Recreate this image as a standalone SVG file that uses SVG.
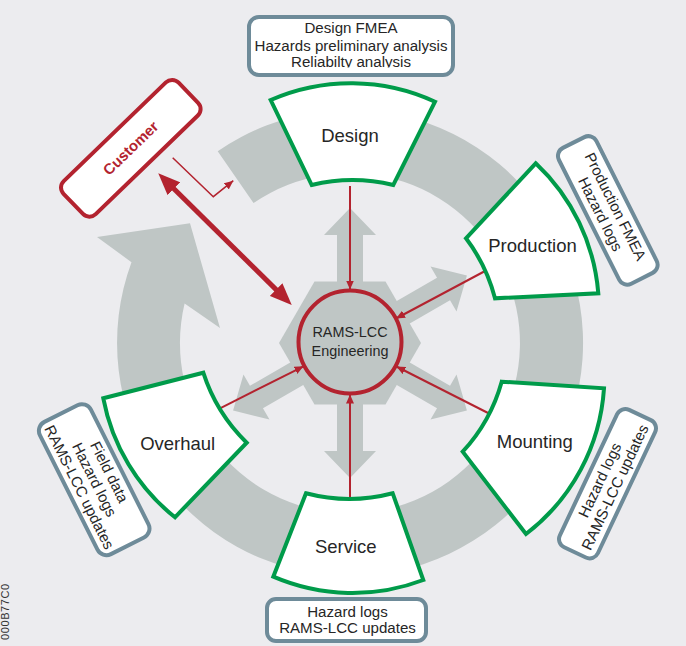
<svg xmlns="http://www.w3.org/2000/svg" width="686" height="646" viewBox="0 0 686 646">
<style>
.gray{fill:#BFC6C5}
.seg{fill:#fff;stroke:#009B4A;stroke-width:4;stroke-linejoin:miter}
.note{fill:#fff;stroke:#6E8B99;stroke-width:4}
.t{font-family:"Liberation Sans",Arial,sans-serif;fill:#262626;text-anchor:middle}
.lbl{font-size:18.5px}
.nt{font-size:15.1px}
.thin{stroke:#B3232F;stroke-width:2;fill:none}
</style>
<defs>
<marker id="ah" markerUnits="userSpaceOnUse" markerWidth="9" markerHeight="8" viewBox="0 0 9 8" refX="9" refY="4" orient="auto"><path d="M0,0 L9,4 L0,8 z" fill="#B3232F"/></marker>
<marker id="big" markerUnits="userSpaceOnUse" markerWidth="22" markerHeight="18" viewBox="0 0 22 18" refX="10" refY="9" orient="auto-start-reverse"><path d="M0,0 L22,9 L0,18 z" fill="#B3232F"/></marker>
<path id="rad" d="M-13,-60 L-13,-108 L-26,-108 L0,-135 L26,-108 L13,-108 L13,-60 Z"/>
<clipPath id="clip3"><rect x="240" y="0" width="220" height="67.6"/></clipPath>
</defs>
<rect width="686" height="646" fill="#ECECEF"/>
<g id="cycle">
<path class="gray" d="M217.7,151.2 A233,233 0 1 1 131.5,262.2 L97,237 L190,223.3 L220,328 L184.6,303.6 A170,170 0 1 0 253.5,203.1 Z"/>
<g class="gray" transform="translate(350,343)">
<use href="#rad"/>
<use href="#rad" transform="rotate(60)"/>
<use href="#rad" transform="rotate(120)"/>
<use href="#rad" transform="rotate(180)"/>
<use href="#rad" transform="rotate(240)"/>
<polygon points="71,0 35.5,-61.5 -35.5,-61.5 -71,0 -35.5,61.5 35.5,61.5"/>
</g>
</g>
<g id="connectors">
<line class="thin" x1="350" y1="186" x2="350" y2="289.5" marker-end="url(#ah)"/>
<line class="thin" x1="487" y1="270" x2="396" y2="318.5" marker-end="url(#ah)"/>
<line class="thin" x1="492" y1="415" x2="396.4" y2="366.5" marker-end="url(#ah)"/>
<line class="thin" x1="350" y1="497" x2="350" y2="394.5" marker-end="url(#ah)"/>
<line class="thin" x1="220" y1="408.3" x2="303.5" y2="366.3" marker-end="url(#ah)"/>
<polyline class="thin" style="stroke-width:1.5" points="172.7,157.7 213.3,196.7 233.3,180.7" marker-end="url(#ah)"/>
<line stroke="#B3232F" stroke-width="5" x1="166.8" y1="181.7" x2="283.2" y2="296.6" marker-start="url(#big)" marker-end="url(#big)"/>
</g>
<g id="design">
<path class="seg" d="M270.7,100 A200,200 0 0 1 435,101.7 L393.3,185 A170,170 0 0 0 311.7,185 Z"/>
<text class="t lbl" x="350" y="141.7">Design</text>
</g>
<g id="production">
<path class="seg" d="M466,238.3 L535.7,163.3 A200,200 0 0 1 598.3,293.3 L495,298.3 A170,170 0 0 0 466,238.3 Z"/>
<text class="t lbl" x="532.5" y="251.7">Production</text>
</g>
<g id="mounting">
<path class="seg" d="M501.7,381.7 L604,388.3 A200,200 0 0 1 526,534 L462.7,451.7 A170,170 0 0 0 501.7,381.7 Z"/>
<text class="t lbl" x="534.8" y="447.7">Mounting</text>
</g>
<g id="service">
<path class="seg" d="M306,493.3 L273.3,576.7 A200,200 0 0 0 423.3,580 L392.7,493.3 A170,170 0 0 1 306,493.3 Z"/>
<text class="t lbl" x="345.8" y="553.3">Service</text>
</g>
<g id="overhaul">
<path class="seg" d="M103.3,398.3 L203.3,372.7 A170,170 0 0 0 246.7,442.7 L175,517.3 A200,200 0 0 1 103.3,398.3 Z"/>
<text class="t lbl" x="177.7" y="450">Overhaul</text>
</g>
<g id="rams-lcc">
<circle cx="350" cy="342" r="51.5" fill="none" stroke="#B3232F" stroke-width="4"/>
<text class="t" style="font-size:14.4px" x="350" y="337.3">RAMS-LCC</text>
<text class="t" style="font-size:14.4px" x="350" y="356">Engineering</text>
</g>
<g id="customer" transform="translate(130.8,148.3) rotate(-44)">
<rect x="-80" y="-23" width="160" height="46" rx="9" fill="#fff" stroke="#B3232F" stroke-width="4"/>
<text x="0" y="5" font-family="Liberation Sans, Arial, sans-serif" font-size="15" font-weight="bold" fill="#B3232F" text-anchor="middle">Customer</text>
</g>
<g id="note-design">
<rect class="note" x="249" y="17" width="204" height="58" rx="10"/>
<text class="t nt" x="351" y="33.3">Design FMEA</text>
<text class="t nt" x="351" y="50.7">Hazards preliminary analysis</text>
<text class="t nt" x="351" y="66.7" clip-path="url(#clip3)">Reliabilty analysis</text>
</g>
<g id="note-production" transform="translate(607.8,210.4) rotate(63.3)">
<rect class="note" x="-76" y="-21" width="152" height="42" rx="9"/>
<text class="t nt" x="0" y="-3.3">Production FMEA</text>
<text class="t nt" x="0" y="13.5">Hazard logs</text>
</g>
<g id="note-mounting" transform="translate(607.5,483.7) rotate(-64.7)">
<rect class="note" x="-76" y="-21" width="152" height="42" rx="9"/>
<text class="t nt" x="0" y="-3.3">Hazard logs</text>
<text class="t nt" x="0" y="13.5">RAMS-LCC updates</text>
</g>
<g id="note-service">
<rect class="note" x="267" y="599" width="159" height="42" rx="9"/>
<text class="t nt" x="347.5" y="616.7">Hazard logs</text>
<text class="t nt" x="347.5" y="633.3">RAMS-LCC updates</text>
</g>
<g id="note-overhaul" transform="translate(94.2,479.7) rotate(63.3)">
<rect class="note" x="-74" y="-28.5" width="148" height="57" rx="10"/>
<text class="t nt" x="0" y="-11.8">Field data</text>
<text class="t nt" x="0" y="5">Hazard logs</text>
<text class="t nt" x="0" y="21.8">RAMS-LCC updates</text>
</g>
<text font-family="Liberation Sans, Arial, sans-serif" font-size="11" fill="#333" letter-spacing="0.6" transform="translate(9,640) rotate(-90)">000B77C0</text>
</svg>
